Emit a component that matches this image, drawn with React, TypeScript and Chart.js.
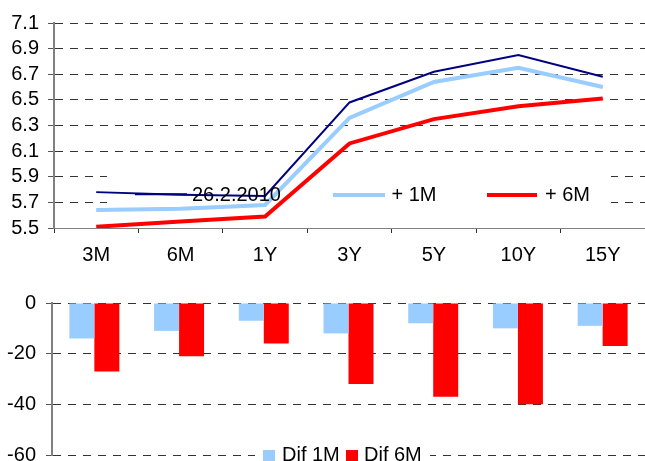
import React, { useEffect, useRef } from "react";
import { Chart, registerables } from "chart.js";

Chart.register(...registerables);

const categories = ["3M", "6M", "1Y", "3Y", "5Y", "10Y", "15Y"];
const curveNow = [5.78, 5.76, 5.75, 6.48, 6.72, 6.85, 6.68];
const curve1M = [5.64, 5.65, 5.68, 6.36, 6.64, 6.75, 6.6];
const curve6M = [5.51, 5.55, 5.59, 6.16, 6.35, 6.45, 6.51];
const dif1M = [-14, -11, -7, -12, -8, -10, -9];
const dif6M = [-27, -21, -16, -32, -37, -40, -17];
const topTicks = [5.5, 5.7, 5.9, 6.1, 6.3, 6.5, 6.7, 6.9, 7.1];
const bottomTicks = [-60, -40, -20, 0];
const lineLabels = ["26.2.2010", "+ 1M", "+ 6M"];
const barLabels = ["Dif 1M", "Dif 6M"];

const FONT = "'Liberation Sans', Arial, sans-serif";
const NAVY = "#000080";
const LIGHT = "#99CCFF";
const RED = "#FF0000";
const GRID = "#333333";
const AXIS = "#808080";

const topLegendPlugin = {
  id: "topLegend",
  beforeDatasetsDraw(chart: any) {
    const ctx = chart.ctx;
    ctx.save();
    ctx.fillStyle = "#ffffff";
    ctx.fillRect(107, 162, 504, 58);
    ctx.restore();
  },
  afterDatasetsDraw(chart: any) {
    const ctx = chart.ctx;
    const items = [
      { x1: 135, x2: 187, y: 194.3, w: 2, c: NAVY, tx: 192, t: lineLabels[0] },
      { x1: 333, x2: 385, y: 195, w: 4, c: LIGHT, tx: 391.5, t: lineLabels[1] },
      { x1: 487, x2: 537, y: 195, w: 4, c: RED, tx: 545, t: lineLabels[2] },
    ];
    ctx.save();
    ctx.font = `20px ${FONT}`;
    ctx.textBaseline = "alphabetic";
    ctx.textAlign = "left";
    for (const it of items) {
      ctx.beginPath();
      ctx.strokeStyle = it.c;
      ctx.lineWidth = it.w;
      ctx.moveTo(it.x1, it.y);
      ctx.lineTo(it.x2, it.y);
      ctx.stroke();
      ctx.fillStyle = "#000";
      ctx.fillText(it.t, it.tx, 200.5);
    }
    ctx.restore();
  },
};

const bottomLegendPlugin = {
  id: "bottomLegend",
  afterDraw(chart: any) {
    const ctx = chart.ctx;
    ctx.save();
    ctx.fillStyle = "#ffffff";
    ctx.fillRect(255, 443, 175, 30);
    ctx.font = `20px ${FONT}`;
    ctx.textBaseline = "alphabetic";
    ctx.textAlign = "left";
    ctx.fillStyle = LIGHT;
    ctx.fillRect(263, 450, 12, 12);
    ctx.fillStyle = "#000";
    ctx.fillText(barLabels[0], 282, 461);
    ctx.fillStyle = RED;
    ctx.fillRect(346, 450, 12, 12);
    ctx.fillStyle = "#000";
    ctx.fillText(barLabels[1], 364, 461);
    ctx.restore();
  },
};

export default function App() {
  const topRef = useRef<HTMLCanvasElement | null>(null);
  const botRef = useRef<HTMLCanvasElement | null>(null);

  useEffect(() => {
    document.body.style.margin = "0";
    Chart.defaults.font.family = FONT;
    Chart.defaults.font.size = 20;
    Chart.defaults.color = "#000";

    const top = new Chart(topRef.current as HTMLCanvasElement, {
      type: "line",
      data: {
        labels: categories,
        datasets: [
          { label: lineLabels[0], data: curveNow, borderColor: NAVY, borderWidth: 2, pointRadius: 0, tension: 0, fill: false },
          { label: lineLabels[1], data: curve1M, borderColor: LIGHT, borderWidth: 4, pointRadius: 0, tension: 0, fill: false },
          { label: lineLabels[2], data: curve6M, borderColor: RED, borderWidth: 4, pointRadius: 0, tension: 0, fill: false },
        ],
      },
      options: {
        animation: false,
        responsive: false,
        maintainAspectRatio: false,
        layout: { padding: { top: 23, left: 0, right: 0, bottom: 0 } },
        plugins: { legend: { display: false }, tooltip: { enabled: false } },
        scales: {
          x: {
            type: "category",
            offset: true,
            grid: { display: true, drawOnChartArea: false, drawTicks: true, tickLength: 5, offset: true, color: GRID, tickColor: GRID, lineWidth: 1 },
            border: { display: true, color: AXIS, width: 1 },
            ticks: { color: "#000", font: { size: 20, family: FONT }, padding: 10, maxRotation: 0, autoSkip: false },
            afterFit: (s: any) => { s.height = 233; },
          },
          y: {
            min: 5.5,
            max: 7.1,
            afterBuildTicks: (s: any) => { s.ticks = topTicks.map((v) => ({ value: v })); },
            afterFit: (s: any) => { s.width = 54; },
            grid: {
              color: (c: any) => (c.index === 0 ? "rgba(0,0,0,0)" : GRID),
              lineWidth: 1,
              drawTicks: true,
              tickLength: 6,
              tickColor: "#555",
            },
            border: { display: true, color: AXIS, width: 2, dash: [8, 7] },
            ticks: { color: "#000", font: { size: 20, family: FONT }, padding: 9, autoSkip: false, callback: (v: any) => Number(v).toFixed(1) },
          },
        },
      },
      plugins: [topLegendPlugin],
    } as any);

    const bottom = new Chart(botRef.current as HTMLCanvasElement, {
      type: "bar",
      data: {
        labels: categories,
        datasets: [
          { label: barLabels[0], data: dif1M, backgroundColor: LIGHT, borderWidth: 0, categoryPercentage: 0.59, barPercentage: 1 },
          { label: barLabels[1], data: dif6M, backgroundColor: RED, borderWidth: 0, categoryPercentage: 0.59, barPercentage: 1 },
        ],
      },
      options: {
        animation: false,
        responsive: false,
        maintainAspectRatio: false,
        layout: { padding: { top: 303, left: 0, right: 0, bottom: 25 } },
        plugins: { legend: { display: false }, tooltip: { enabled: false } },
        scales: {
          x: { type: "category", offset: true, display: false },
          y: {
            min: -60,
            max: 0,
            afterBuildTicks: (s: any) => { s.ticks = bottomTicks.map((v) => ({ value: v })); },
            afterFit: (s: any) => { s.width = 52; },
            grid: { color: GRID, lineWidth: 1, drawTicks: true, tickLength: 6, tickColor: "#555" },
            border: { display: true, color: AXIS, width: 2, dash: [8, 7] },
            ticks: { color: "#000", font: { size: 20, family: FONT }, padding: 10, autoSkip: false },
          },
        },
      },
      plugins: [bottomLegendPlugin],
    } as any);

    return () => {
      top.destroy();
      bottom.destroy();
    };
  }, []);

  return (
    <div style={{ position: "fixed", left: 0, top: 0, width: 645, height: 461, overflow: "hidden", background: "#fff" }}>
      <canvas ref={topRef} width={645} height={461} style={{ position: "absolute", left: 0, top: 0, width: 645, height: 461 }} />
      <canvas ref={botRef} width={645} height={480} style={{ position: "absolute", left: 0, top: 0, width: 645, height: 480 }} />
    </div>
  );
}
